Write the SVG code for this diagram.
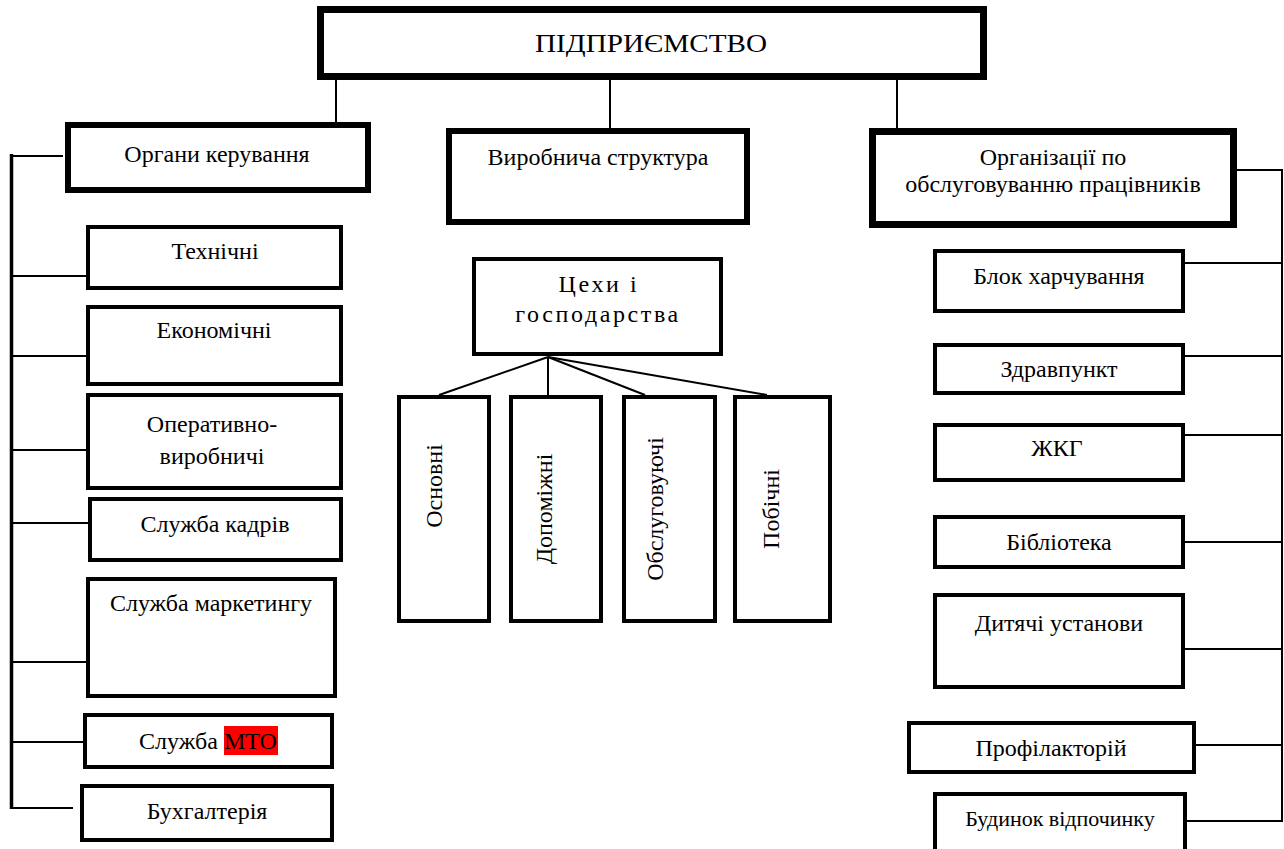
<svg xmlns="http://www.w3.org/2000/svg" width="1284" height="849" viewBox="0 0 1284 849">
<style>
.b{fill:#fff;stroke:#000;stroke-width:4}
.bt{fill:#fff;stroke:#000;stroke-width:6}
.c{stroke:#000;stroke-width:2;fill:none}
.s{stroke:#000;stroke-width:3.5;fill:none}
text{font-family:"Liberation Serif","Times New Roman",serif;font-size:24px;fill:#000;text-anchor:middle}
.sm{font-size:22px}
.sp{letter-spacing:2.6px}
</style>
<rect width="1284" height="849" fill="#fff"/>
<g id="connectors">
<line class="c" x1="336" y1="80" x2="336" y2="130"/>
<line class="c" x1="610" y1="80" x2="610" y2="129"/>
<line class="c" x1="897" y1="80" x2="897" y2="129"/>
<line class="s" x1="11.5" y1="154" x2="11.5" y2="809"/>
<line class="c" x1="11" y1="156" x2="63" y2="156"/>
<line class="c" x1="11" y1="276" x2="86" y2="276"/>
<line class="c" x1="11" y1="356" x2="86" y2="356"/>
<line class="c" x1="11" y1="450" x2="86" y2="450"/>
<line class="c" x1="11" y1="523" x2="88" y2="523"/>
<line class="c" x1="11" y1="662" x2="86" y2="662"/>
<line class="c" x1="11" y1="742" x2="88" y2="742"/>
<line class="c" x1="11" y1="808" x2="73" y2="808"/>
<line class="c" x1="1282" y1="169" x2="1282" y2="822"/>
<line class="c" x1="1237" y1="170" x2="1283" y2="170"/>
<line class="c" x1="1185" y1="263" x2="1283" y2="263"/>
<line class="c" x1="1185" y1="356" x2="1283" y2="356"/>
<line class="c" x1="1185" y1="435" x2="1283" y2="435"/>
<line class="c" x1="1185" y1="542" x2="1283" y2="542"/>
<line class="c" x1="1185" y1="649" x2="1283" y2="649"/>
<line class="c" x1="1196" y1="745" x2="1283" y2="745"/>
<line class="c" x1="1187" y1="821" x2="1283" y2="821"/>
<line class="c" x1="548" y1="357" x2="439" y2="395"/>
<line class="c" x1="548" y1="357" x2="548" y2="395"/>
<line class="c" x1="548" y1="357" x2="645" y2="395"/>
<line class="c" x1="548" y1="357" x2="767" y2="395"/>
</g>
<g id="n-top"><rect class="bt" x="320.5" y="9.5" width="663" height="67" style="stroke-width:7"/><text x="651" y="52" style="font-size:25px" textLength="232" lengthAdjust="spacingAndGlyphs">ПІДПРИЄМСТВО</text></g>
<g id="n-organy"><rect class="bt" x="68" y="125" width="300" height="65"/><text x="217" y="162">Органи керування</text></g>
<g id="n-vyrob"><rect class="bt" x="449" y="131" width="298" height="91"/><text x="598" y="165">Виробнича структура</text></g>
<g id="n-org"><rect class="bt" x="872.5" y="131.5" width="361" height="93" style="stroke-width:7"/><text x="1053" y="165">Організації по</text><text x="1053" y="192">обслуговуванню працівників</text></g>
<g id="n-tech"><rect class="b" x="88" y="227" width="253" height="61"/><text x="215" y="259">Технічні</text></g>
<g id="n-econ"><rect class="b" x="88" y="307" width="253" height="77"/><text x="214" y="338">Економічні</text></g>
<g id="n-oper"><rect class="b" x="88" y="395" width="253" height="93"/><text x="212" y="432">Оперативно-</text><text x="212" y="464">виробничі</text></g>
<g id="n-kadry"><rect class="b" x="90" y="499" width="251" height="61"/><text x="215" y="532">Служба кадрів</text></g>
<g id="n-market"><rect class="b" x="88" y="579" width="247" height="117"/><text x="211" y="611">Служба маркетингу</text></g>
<g id="n-mto"><rect class="b" x="85" y="715" width="247" height="52"/><rect x="224" y="726" width="54" height="29" fill="#ff0000"/><text x="208" y="749">Служба МТО</text></g>
<g id="n-buh"><rect class="b" x="82" y="786" width="250" height="54"/><text x="207" y="819">Бухгалтерія</text></g>
<g id="n-cehy"><rect class="b" x="474" y="259" width="247" height="95"/><text class="sp" x="599" y="292">Цехи і</text><text class="sp" x="598" y="322">господарства</text></g>
<g id="n-osn"><rect class="b" x="399" y="397" width="90" height="224"/><text transform="translate(442,486) rotate(-90)">Основні</text></g>
<g id="n-dop"><rect class="b" x="511" y="397" width="90" height="224"/><text transform="translate(552,509) rotate(-90)">Допоміжні</text></g>
<g id="n-obsl"><rect class="b" x="624" y="397" width="91" height="224"/><text transform="translate(663,509) rotate(-90)">Обслуговуючі</text></g>
<g id="n-pob"><rect class="b" x="735" y="397" width="95" height="224"/><text transform="translate(779,509) rotate(-90)">Побічні</text></g>
<g id="n-blok"><rect class="b" x="935" y="251" width="248" height="60"/><text x="1059" y="284">Блок харчування</text></g>
<g id="n-zdrav"><rect class="b" x="935" y="345" width="248" height="48"/><text x="1059" y="377">Здравпункт</text></g>
<g id="n-zhkg"><rect class="b" x="935" y="425" width="248" height="55"/><text x="1057" y="456">ЖКГ</text></g>
<g id="n-bibl"><rect class="b" x="935" y="517" width="248" height="50"/><text x="1059" y="550">Бібліотека</text></g>
<g id="n-dyt"><rect class="b" x="935" y="595" width="248" height="92"/><text x="1059" y="631">Дитячі установи</text></g>
<g id="n-prof"><rect class="b" x="909" y="723" width="285" height="49"/><text x="1051" y="756">Профілакторій</text></g>
<g id="n-budynok"><rect class="b" x="935" y="794" width="250" height="80"/><text class="sm" x="1060" y="826">Будинок відпочинку</text></g>
</svg>
